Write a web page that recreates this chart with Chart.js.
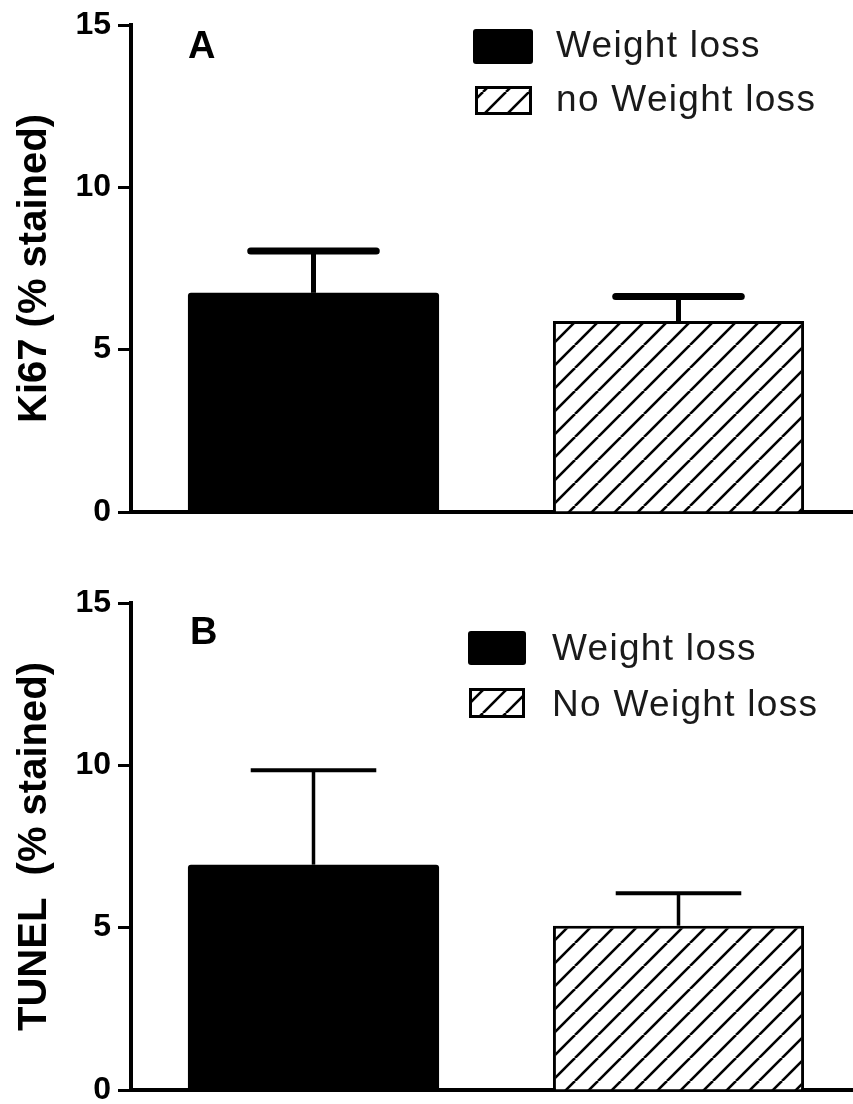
<!DOCTYPE html>
<html>
<head>
<meta charset="utf-8">
<title>Ki67 and TUNEL staining</title>
<script src="https://cdn.jsdelivr.net/npm/chart.js@4.4.1/dist/chart.umd.min.js"></script>
<style>
  html, body { margin: 0; padding: 0; background: #fff; }
  #wrap { width: 853px; height: 1104px; overflow: hidden; }
  canvas { display: block; }
</style>
</head>
<body>
<div id="wrap">
  <canvas id="chart-ki67" width="861" height="552"></canvas>
  <canvas id="chart-tunel" width="861" height="552"></canvas>
</div>
<script>
// values (mean and upper error, % stained)
const ki67Groups = ["Weight loss", "no Weight loss"];
const ki67Mean = [6.75, 5.88];
const ki67Err = [1.29, 0.76];

const tunelGroups = ["Weight loss", "No Weight loss"];
const tunelMean = [6.94, 5.06];
const tunelErr = [2.91, 1.0];

const yTicks = [0, 5, 10, 15];

const FONT = "'Liberation Sans', Arial, Helvetica, sans-serif";
Chart.defaults.font.family = FONT;
Chart.defaults.color = "#000";

// diagonal hatch for the "no weight loss" bars
function makeHatch(ctx) {
    const size = 23;
    const tile = document.createElement("canvas");
    tile.width = size;
    tile.height = size;
    const g = tile.getContext("2d");
    g.fillStyle = "#fff";
    g.fillRect(0, 0, size, size);
    g.strokeStyle = "#000";
    g.lineWidth = 2.6;
    [-1, 0, 1].forEach((k) => {
        g.beginPath();
        g.moveTo(k * size, size);
        g.lineTo(k * size + size, 0);
        g.stroke();
    });
    return ctx.createPattern(tile, "repeat");
}

// upper error bar on each bar
const errorBars = {
    id: "errorBars",
    afterDatasetsDraw(chart, args, opts) {
        const { ctx } = chart;
        const yScale = chart.scales.y;
        const ds = chart.data.datasets[0];
        const meta = chart.getDatasetMeta(0);
        ctx.save();
        ctx.strokeStyle = "#000";
        meta.data.forEach((bar, i) => {
            const top = yScale.getPixelForValue(ds.data[i] + opts.errors[i]);
            const half = (bar.width * opts.capRatio) / 2;
            ctx.lineCap = "butt";
            ctx.lineWidth = opts.stemWidth;
            ctx.beginPath();
            ctx.moveTo(bar.x, bar.y);
            ctx.lineTo(bar.x, top);
            ctx.stroke();
            ctx.lineCap = opts.capStyle;
            ctx.lineWidth = opts.capWidth;
            ctx.beginPath();
            ctx.moveTo(bar.x - half, top);
            ctx.lineTo(bar.x + half, top);
            ctx.stroke();
        });
        ctx.restore();
    },
};

// panel letter and the legend boxes
const panelDecor = {
    id: "panelDecor",
    afterDraw(chart, args, opts) {
        const { ctx } = chart;
        const ds = chart.data.datasets[0];
        ctx.save();
        ctx.fillStyle = "#000";
        ctx.textBaseline = "alphabetic";
        ctx.font = "bold 38px " + FONT;
        ctx.fillText(opts.letter, opts.letterX, opts.letterY);

        ctx.font = "37px " + FONT;
        ctx.letterSpacing = "1.3px";
        chart.data.labels.forEach((label, i) => {
            const b = opts.boxes[i];
            ctx.fillStyle = ds.backgroundColor[i];
            ctx.beginPath();
            ctx.roundRect(b.x, b.y, b.w, b.h, 3);
            ctx.fill();
            if (ds.borderWidth[i] > 0) {
                ctx.lineWidth = 3;
                ctx.strokeStyle = "#000";
                ctx.strokeRect(b.x + 1.5, b.y + 1.5, b.w - 3, b.h - 3);
            }
            ctx.fillStyle = "#1a1a1a";
            ctx.fillText(label, opts.textX, b.base);
        });
        ctx.restore();
    },
};

function buildChart(id, labels, means, title, padding, decor, err) {
    const canvas = document.getElementById(id);
    const ctx = canvas.getContext("2d");
    return new Chart(canvas, {
        type: "bar",
        data: {
            labels: labels,
            datasets: [
                {
                    data: means,
                    backgroundColor: ["#000", makeHatch(ctx)],
                    borderColor: "#000",
                    borderWidth: [0, 3],
                    borderRadius: [{ topLeft: 3, topRight: 3 }, 0],
                    borderSkipped: "start",
                    categoryPercentage: 1,
                    barPercentage: 0.688,
                },
            ],
        },
        options: {
            responsive: false,
            devicePixelRatio: 1,
            animation: false,
            layout: { padding: padding },
            scales: {
                x: {
                    grid: { display: false },
                    ticks: { display: false },
                    border: { display: true, color: "#000", width: 4 },
                    afterFit: (scale) => {
                        scale.height = 0;
                    },
                },
                y: {
                    min: 0,
                    max: 15,
                    afterBuildTicks: (scale) => {
                        scale.ticks = yTicks.map((v) => ({ value: v }));
                    },
                    afterFit: (scale) => {
                        scale.width = 131;
                        scale.paddingTop = 0;
                        scale.paddingBottom = 0;
                    },
                    grid: {
                        drawOnChartArea: false,
                        color: "#000",
                        tickColor: "#000",
                        tickLength: 13,
                        tickWidth: 3,
                    },
                    border: { color: "#000", width: 4 },
                    ticks: {
                        padding: 7,
                        color: "#000",
                        font: { size: 32, weight: "bold" },
                    },
                    title: {
                        display: true,
                        text: title,
                        color: "#000",
                        padding: { top: 11, bottom: 0 },
                        font: { size: 40, weight: "bold" },
                    },
                },
            },
            plugins: {
                legend: { display: false },
                tooltip: { enabled: false },
                errorBars: err,
                panelDecor: decor,
            },
        },
        plugins: [errorBars, panelDecor],
    });
}

buildChart(
    "chart-ki67",
    ki67Groups,
    ki67Mean,
    "Ki67 (% stained)",
    { top: 25, bottom: 40, left: 0, right: 0 },
    {
        letter: "A",
        letterX: 188,
        letterY: 58,
        textX: 556,
        boxes: [
            { x: 473, y: 29, w: 60, h: 35, base: 57 },
            { x: 475, y: 86, w: 57, h: 29, base: 111 },
        ],
    },
    { errors: ki67Err, capRatio: 0.5, stemWidth: 5, capWidth: 7, capStyle: "round" }
);

buildChart(
    "chart-tunel",
    tunelGroups,
    tunelMean,
    "TUNEL  (% stained)",
    { top: 51, bottom: 14, left: 0, right: 0 },
    {
        letter: "B",
        letterX: 190,
        letterY: 92,
        textX: 552,
        boxes: [
            { x: 468, y: 79, w: 58, h: 34, base: 108 },
            { x: 469, y: 136, w: 56, h: 30, base: 164 },
        ],
    },
    { errors: tunelErr, capRatio: 0.5, stemWidth: 3.5, capWidth: 4, capStyle: "butt" }
);
</script>
</body>
</html>
